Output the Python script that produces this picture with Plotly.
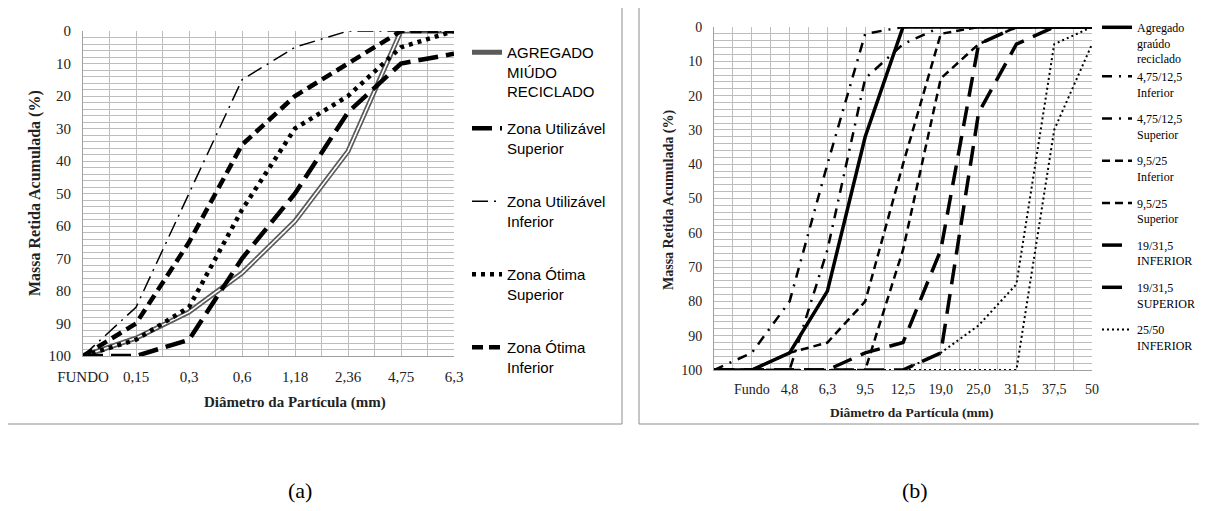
import plotly.graph_objects as go

# page body has an 8px margin; work in window pixels and convert
OFF = 8
W, H = 1207 - 2 * OFF, 511 - 2 * OFF

# ---------------- data: panel (a) ----------------
cats_a = ["FUNDO", "0,15", "0,3", "0,6", "1,18", "2,36", "4,75", "6,3"]
agregado_miudo = [100, 94.5, 86.5, 74.5, 58.5, 37, 0, 0]
zona_util_sup = [100, 100, 95, 70, 50, 25, 10, 7]
zona_util_inf = [100, 85, 50, 15, 5, 0, 0, 0]
zona_otima_sup = [100, 95, 85, 55, 30, 20, 5, 0]
zona_otima_inf = [100, 90, 65, 35, 20, 10, 0, 0]

# ---------------- data: panel (b) ----------------
cats_b = ["", "Fundo", "4,8", "6,3", "9,5", "12,5", "19,0", "25,0", "31,5", "37,5", "50"]
agregado_graudo = [100, 100, 95, 77, 32, 0, 0, 0, 0, 0, 0]
g475_125_inf = [100, 95, 80, 40, 2, 0, 0, 0, 0, 0, 0]
g475_125_sup = [100, 100, 100, 65, 15, 5, 0, 0, 0, 0, 0]
g95_25_inf = [100, 100, 95, 92, 80, 40, 2, 0, 0, 0, 0]
g95_25_sup = [100, 100, 100, 100, 100, 65, 15, 5, 0, 0, 0]
g19_315_inf = [100, 100, 100, 100, 95, 92, 65, 5, 0, 0, 0]
g19_315_sup = [100, 100, 100, 100, 100, 100, 95, 25, 5, 0, 0]
g25_50_inf = [100, 100, 100, 100, 100, 100, 95, 87, 75, 5, 0]
g25_50_sup = [100, 100, 100, 100, 100, 100, 100, 100, 100, 30, 5]

y_ticks = list(range(0, 101, 10))


def px(x):
    return (x - OFF) / W


def py(y):
    return 1 - (y - OFF) / H


xa = list(range(len(cats_a)))
xb = list(range(len(cats_b)))

fig = go.Figure()

# ---------- panel (a) traces ----------
fig.add_trace(go.Scatter(x=xa, y=agregado_miudo, mode="lines", name="AGREGADO<br>MIÚDO<br>RECICLADO",
                         line=dict(color="#5a5a5a", width=5), legendgroup="a1", legend="legend",
                         xaxis="x", yaxis="y"))
fig.add_trace(go.Scatter(x=xa, y=agregado_miudo, mode="lines", showlegend=False,
                         line=dict(color="white", width=1.6), legendgroup="a1", legend="legend",
                         xaxis="x", yaxis="y"))
fig.add_trace(go.Scatter(x=xa, y=zona_util_sup, mode="lines", name="Zona Utilizável<br>Superior",
                         line=dict(color="black", width=4.5, dash="20px,8px"), legendgroup="a2",
                         legend="legend3", xaxis="x", yaxis="y"))
fig.add_trace(go.Scatter(x=xa, y=zona_util_inf, mode="lines", name="Zona Utilizável<br>Inferior",
                         line=dict(color="black", width=1.5, dash="16px,6px,2px,6px"), legendgroup="a3",
                         legend="legend3", xaxis="x", yaxis="y"))
fig.add_trace(go.Scatter(x=xa, y=zona_otima_sup, mode="lines", name="Zona Ótima<br>Superior",
                         line=dict(color="black", width=4.5, dash="4px,5px"), legendgroup="a4",
                         legend="legend3", xaxis="x", yaxis="y"))
fig.add_trace(go.Scatter(x=xa, y=zona_otima_inf, mode="lines", name="Zona Ótima<br>Inferior",
                         line=dict(color="black", width=4.5, dash="11px,6px"), legendgroup="a5",
                         legend="legend3", xaxis="x", yaxis="y"))

# ---------- panel (b) traces ----------
b_series = [
    (g25_50_sup, None, dict(color="black", width=2, dash="2px,3px")),
    (g25_50_inf, "25/50<br>INFERIOR", dict(color="black", width=2, dash="2px,3px")),
    (g19_315_sup, "19/31,5<br>SUPERIOR", dict(color="black", width=3.5, dash="20px,10px")),
    (g19_315_inf, "19/31,5<br>INFERIOR", dict(color="black", width=3.5, dash="20px,10px")),
    (g95_25_sup, "9,5/25<br>Superior", dict(color="black", width=2.5, dash="8px,5px")),
    (g95_25_inf, "9,5/25<br>Inferior", dict(color="black", width=2.5, dash="8px,5px")),
    (g475_125_sup, "4,75/12,5<br>Superior", dict(color="black", width=2.5, dash="10px,7px,2px,7px")),
    (g475_125_inf, "4,75/12,5<br>Inferior", dict(color="black", width=2.5, dash="10px,7px,2px,7px")),
    (agregado_graudo, "Agregado<br>graúdo<br>reciclado", dict(color="black", width=3.5)),
]
order = {"Agregado<br>graúdo<br>reciclado": 1, "4,75/12,5<br>Inferior": 2, "4,75/12,5<br>Superior": 3,
         "9,5/25<br>Inferior": 4, "9,5/25<br>Superior": 5, "19/31,5<br>INFERIOR": 6,
         "19/31,5<br>SUPERIOR": 7, "25/50<br>INFERIOR": 8}
for i, (vals, name, ln) in enumerate(b_series):
    leg = "legend2" if (name or "").startswith("Agregado") else "legend4"
    fig.add_trace(go.Scatter(x=xb, y=vals, mode="lines", name=name or "25/50 SUPERIOR",
                             showlegend=name is not None, line=ln,
                             legendgroup="b%d" % i, legendrank=order.get(name, 99),
                             legend=leg, xaxis="x2", yaxis="y2"))

grid = "#bdbdbd"
serif = "Liberation Serif"
tickfont_a = dict(family=serif, size=15, color="#222")
tickfont_b = dict(family=serif, size=14, color="#222")

leg_common = dict(xanchor="left", yanchor="top", valign="top", bgcolor="rgba(0,0,0,0)",
                  itemwidth=30, traceorder="grouped")
font_la = dict(family="Liberation Sans", size=15, color="black")
font_lb = dict(family=serif, size=12, color="black")

fig.update_layout(
    width=W, height=H, margin=dict(l=0, r=0, t=0, b=0, autoexpand=False),
    paper_bgcolor="white", plot_bgcolor="white",
    xaxis=dict(domain=[px(83), px(454)], range=[0, len(cats_a) - 1],
               tickmode="array", tickvals=xa, ticktext=cats_a, ticks="",
               showgrid=True, gridcolor=grid, gridwidth=1,
               minor=dict(dtick=0.5, tick0=0, showgrid=True, gridcolor=grid, gridwidth=1),
               showline=True, linecolor="#a0a0a0", zeroline=False, automargin=False,
               tickfont=tickfont_a, ticklabelstandoff=7, fixedrange=True),
    yaxis=dict(domain=[py(356), py(31)], range=[100, 0], tickmode="array", tickvals=y_ticks,
               showgrid=True, gridcolor=grid, gridwidth=1,
               minor=dict(dtick=2, tick0=0, showgrid=True, gridcolor=grid, gridwidth=1),
               showline=True, linecolor="#a0a0a0", zeroline=False, ticks="", automargin=False,
               tickfont=tickfont_a, ticklabelstandoff=8, fixedrange=True),
    xaxis2=dict(domain=[px(714), px(1092)], range=[0, len(cats_b) - 1], anchor="y2",
                tickmode="array", tickvals=xb, ticktext=cats_b, ticks="",
                showgrid=True, gridcolor=grid, gridwidth=1,
                minor=dict(dtick=0.5, tick0=0, showgrid=True, gridcolor=grid, gridwidth=1),
                showline=True, linecolor="#a0a0a0", zeroline=False, automargin=False,
                tickfont=tickfont_b, ticklabelstandoff=6, fixedrange=True),
    yaxis2=dict(domain=[py(370), py(27)], range=[100, 0], anchor="x2", tickmode="array",
                tickvals=y_ticks, showgrid=True, gridcolor=grid, gridwidth=1,
                minor=dict(dtick=2, tick0=0, showgrid=True, gridcolor=grid, gridwidth=1),
                showline=True, linecolor="#a0a0a0", zeroline=False, ticks="", automargin=False,
                tickfont=tickfont_b, ticklabelstandoff=8, fixedrange=True),
    legend=dict(x=px(467), y=py(36), font=font_la, tracegroupgap=0, **leg_common),
    legend3=dict(x=px(467), y=py(112), font=font_la, tracegroupgap=31, **leg_common),
    legend2=dict(x=px(1097), y=py(13), font=font_lb, tracegroupgap=0, **leg_common),
    legend4=dict(x=px(1097), y=py(62), font=font_lb, tracegroupgap=8, **leg_common),
    showlegend=True,
)

# panel frames
fig.add_shape(type="rect", xref="paper", yref="paper", x0=px(7), x1=px(622), y0=py(424), y1=py(7),
              line=dict(color="#8c8c8c", width=1), layer="below")
fig.add_shape(type="rect", xref="paper", yref="paper", x0=px(639), x1=px(1203), y0=py(424), y1=py(7),
              line=dict(color="#8c8c8c", width=1), layer="below")

ann = [
    dict(text="<b>Massa Retida Acumulada (%)</b>", x=px(35), y=py(193), textangle=-90,
         font=dict(family=serif, size=16, color="#222")),
    dict(text="<b>Diâmetro da Partícula (mm)</b>", x=px(295), y=py(402),
         font=dict(family=serif, size=15, color="#222")),
    dict(text="<b>Massa Retida Acumulada (%)</b>", x=px(669), y=py(200), textangle=-90,
         font=dict(family=serif, size=14, color="#222")),
    dict(text="<b>Diâmetro da Partícula (mm)</b>", x=px(912), y=py(412),
         font=dict(family=serif, size=13.5, color="#222")),
    dict(text="(a)", x=px(300), y=py(490), font=dict(family=serif, size=22, color="black")),
    dict(text="(b)", x=px(915), y=py(490), font=dict(family=serif, size=22, color="black")),
]
for a in ann:
    fig.add_annotation(xref="paper", yref="paper", showarrow=False, xanchor="center",
                       yanchor="middle", **a)

fig.write_html("out.html")
